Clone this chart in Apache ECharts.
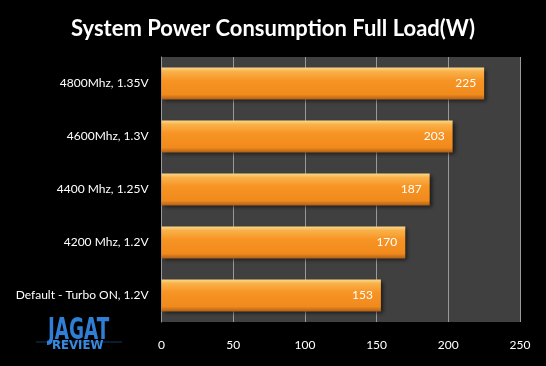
<!DOCTYPE html>
<html><head><meta charset="utf-8">
<script src="https://cdn.jsdelivr.net/npm/echarts@6/dist/echarts.min.js"></script>
<style>html,body{margin:0;padding:0;background:#000;}#c{width:546px;height:366px;}</style>
</head><body><div id="c"></div>
<script>
const categories = ["4800Mhz, 1.35V", "4600Mhz, 1.3V", "4400 Mhz, 1.25V", "4200 Mhz, 1.2V", "Default - Turbo ON, 1.2V"];
const values = [225, 203, 187, 170, 153];
const tickValues = [0, 50, 100, 150, 200, 250];
const titleText = "System Power Consumption Full Load(W)";

const chart = echarts.init(document.getElementById('c'), null, {renderer: 'canvas'});
const FONT = 'Lato, "Open Sans", sans-serif';
chart.setOption({
  backgroundColor: '#000',
  animation: false,
  title: {
    text: titleText, left: 'center', top: 13,
    textStyle: {color: '#fff', fontSize: 22, fontWeight: 'bold', fontFamily: FONT}
  },
  grid: {left: 161.5, right: 26, top: 57, bottom: 44, show: true, backgroundColor: '#404040', borderWidth: 0},
  xAxis: {
    type: 'value', min: tickValues[0], max: tickValues[tickValues.length-1], interval: tickValues[1]-tickValues[0],
    axisLine: {show: false}, axisTick: {show: false},
    splitLine: {show: true, lineStyle: {color: '#9a9a9a', width: 1}},
    axisLabel: {color: '#fff', fontSize: 12, fontFamily: FONT, margin: 17}
  },
  yAxis: {
    type: 'category', data: categories, inverse: true,
    axisLine: {show: true, lineStyle: {color: '#9a9a9a'}}, axisTick: {show: false},
    axisLabel: {color: '#fff', fontSize: 12, fontFamily: FONT, margin: 13}
  },
  series: [{
    type: 'bar', data: values, barWidth: '60%',
    itemStyle: {
      color: new echarts.graphic.LinearGradient(0, 0, 0, 1, [
        {offset: 0, color: '#fbd88a'},
        {offset: 0.12, color: '#f9b24a'},
        {offset: 0.4, color: '#f79424'},
        {offset: 0.85, color: '#f08a1c'},
        {offset: 1, color: '#b0601a'}
      ]),
      shadowColor: 'rgba(0,0,0,0.6)', shadowBlur: 4, shadowOffsetX: 2, shadowOffsetY: 2
    },
    label: {show: true, position: 'insideRight', distance: 8, color: '#fff', fontSize: 12, fontFamily: FONT}
  }],
  graphic: [
    {type: 'line', shape: {x1: 36, y1: 342, x2: 122, y2: 342}, style: {stroke: '#16375e', lineWidth: 1}},
    {type: 'text', x: 48, y: 316, scaleX: 0.68, style: {text: 'JAGAT', fill: '#2f7fd6', fontSize: 30, fontWeight: 'bold', fontFamily: '"DejaVu Sans Condensed", sans-serif'}},
    {type: 'text', x: 52, y: 339, style: {text: 'REVIEW', fill: '#3a8ae0', fontSize: 13, fontWeight: 'bold', fontFamily: '"DejaVu Sans Condensed", sans-serif'}}
  ]
});
</script></body></html>
